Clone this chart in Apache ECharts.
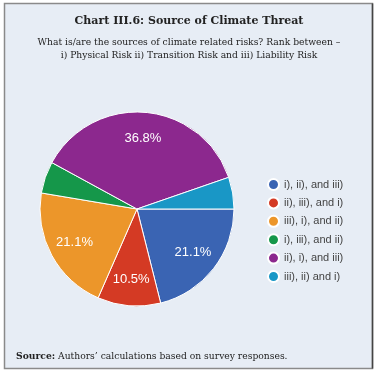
<!DOCTYPE html>
<html><head><meta charset="utf-8">
<script src="https://cdn.jsdelivr.net/npm/echarts@6/dist/echarts.min.js"></script>
<style>html,body{margin:0;padding:0;background:#fff}#c{width:378px;height:375px}</style>
</head><body><div id="c"></div>
<script>
const categories = ['i), ii), and iii)', 'ii), iii), and i)', 'iii), i), and ii)', 'i), iii), and ii)', 'ii), i), and iii)', 'iii), ii) and i)'];
const shares = [21.1, 10.5, 21.1, 5.3, 36.8, 5.3];
const colors = ['#3a64b3', '#d43a24', '#ec962a', '#15974a', '#8c288e', '#1997c6'];
const titleText = 'Chart III.6: Source of Climate Threat';
const subLines = ['What is/are the sources of climate related risks? Rank between \u2013', 'i) Physical Risk ii) Transition Risk and iii) Liability Risk'];
const sourceText = 'Authors\u2019 calculations based on survey responses.';

const data = categories.map((n, i) => ({ name: n, value: shares[i], itemStyle: { color: colors[i] } }));
const chart = echarts.init(document.getElementById('c'));
const serif = '"DejaVu Serif", "Liberation Serif", serif';
chart.setOption({
  backgroundColor: '#fff',
  animation: false,
  graphic: [
    { type: 'rect', z: -10, shape: { x: 4.5, y: 3.5, width: 368, height: 365 }, style: { fill: '#e7edf5', stroke: '#8a8a8a', lineWidth: 1.5 } },
    { type: 'line', z: -9, shape: { x1: 372.5, y1: 3.5, x2: 372.5, y2: 368.5 }, style: { stroke: '#444', lineWidth: 1.5 } },
    { type: 'text', left: 'center', top: 16, style: { text: titleText, font: 'bold 11px ' + serif, fill: '#222' } },
    { type: 'text', left: 'center', top: 38, style: { text: subLines[0], font: '9.2px ' + serif, fill: '#222' } },
    { type: 'text', left: 'center', top: 51, style: { text: subLines[1], font: '9.2px ' + serif, fill: '#222' } },
    { type: 'text', left: 16, top: 352, style: { text: '{b|Source:} ' + sourceText, font: '9.2px ' + serif, fill: '#222', rich: { b: { font: 'bold 9.2px ' + serif, fill: '#222' } } } }
  ],
  legend: {
    orient: 'vertical', left: 267, top: 178, itemGap: 5.4, padding: 0,
    icon: 'circle', itemWidth: 11, itemHeight: 11,
    textStyle: { fontFamily: 'Liberation Sans, Arial, sans-serif', fontSize: 11, color: '#444' },
    data: categories
  },
  series: [
    {
      type: 'pie', center: [137, 209], radius: 97, startAngle: 0, clockwise: true,
      data: data,
      itemStyle: { borderColor: '#fff', borderWidth: 1 },
      label: { show: false }, labelLine: { show: false }, emphasis: { disabled: true }
    },
    {
      type: 'pie', center: [137, 209], radius: [39, 97], startAngle: 0, clockwise: true,
      data: data.map(d => ({ name: d.name, value: d.value, itemStyle: { color: 'rgba(0,0,0,0)' } })),
      silent: true, z: 3,
      label: {
        show: true, position: 'inside', color: '#fff', fontSize: 13, fontFamily: 'Liberation Sans, Arial, sans-serif',
        formatter: p => p.value >= 10 ? p.value.toFixed(1) + '%' : ''
      },
      labelLine: { show: false }, emphasis: { disabled: true }
    }
  ]
});
</script></body></html>
